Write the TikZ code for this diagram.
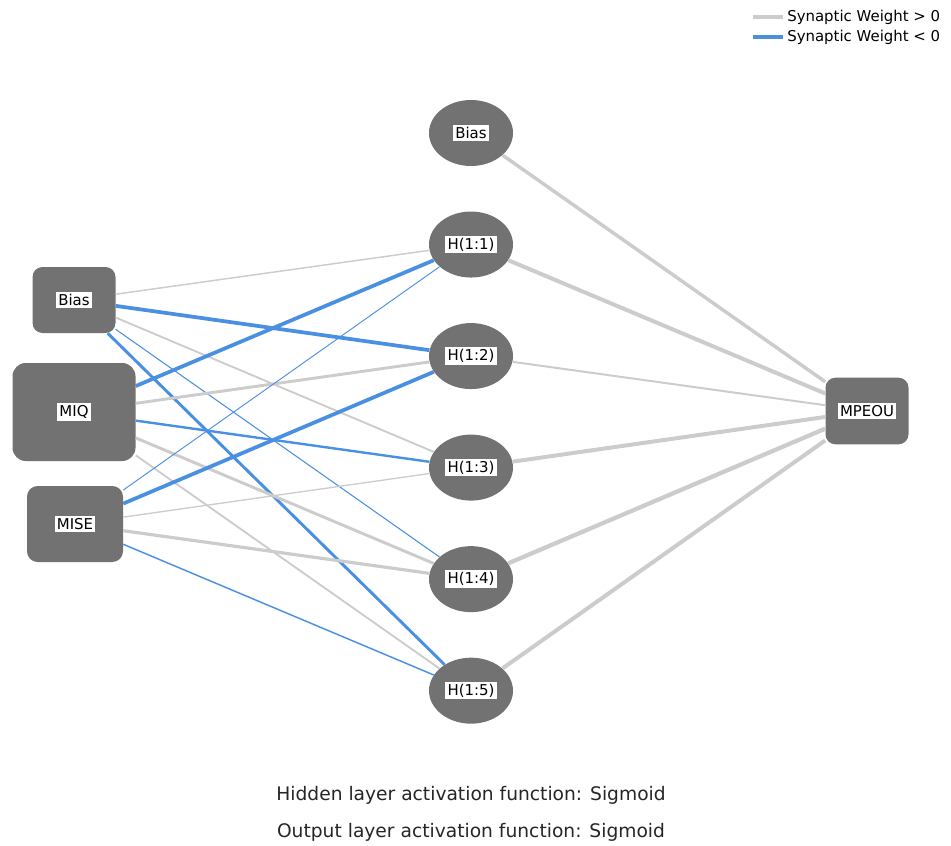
\documentclass[tikz,border=0pt]{standalone}
\usepackage{fontspec}
\setmainfont{DejaVu Sans}
\usepackage{tikz}
\usetikzlibrary{positioning,shapes.geometric}
\definecolor{nodegray}{RGB}{114,114,114}
\definecolor{wpos}{RGB}{204,204,204}
\definecolor{wneg}{RGB}{74,144,226}
\newcommand{\lbl}[1]{{\setlength{\fboxsep}{1.6pt}\colorbox{white}{#1}}}
\tikzset{%
  every node/.style = { font = \fontsize{11.2}{13.5}\selectfont, inner sep = 0pt },
  unit/.style       = { fill = nodegray, rounded corners = #1 },
  hid/.style        = { ellipse, fill = nodegray, minimum width = 63pt, minimum height = 49.5pt },
  pos/.style        = { draw = wpos, line width = #1 },
  neg/.style        = { draw = wneg, line width = #1 },
  foot/.style       = { font = \fontsize{14}{16}\selectfont, text = black!85 }
}

\begin{document}
\begin{tikzpicture}[x=0.75pt, y=-0.75pt]
  \useasboundingbox (0,0) rectangle (951,846);
  % input layer
  \node(ib)[unit=7.5pt, minimum width=62.25pt, minimum height=49.5pt] at (74,300) {\lbl{Bias}};
  \node(miq)[unit=10pt, minimum width=92.25pt, minimum height=73.5pt] at (74,412) {\lbl{MIQ}};
  \node(mise)[unit=8pt, minimum width=72pt, minimum height=57pt] at (75,524) {\lbl{MISE}};
  % hidden layer
  \node(hb)[hid] at (471,133) {\lbl{Bias}};
  \node(h1)[hid, below = 33.75pt of hb] {\lbl{H(1:1)}};
  \node(h2)[hid, below = 33.75pt of h1] {\lbl{H(1:2)}};
  \node(h3)[hid, below = 33.75pt of h2] {\lbl{H(1:3)}};
  \node(h4)[hid, below = 33.75pt of h3] {\lbl{H(1:4)}};
  \node(h5)[hid, below = 33.75pt of h4] {\lbl{H(1:5)}};
  % output layer
  \node(out)[unit=7.5pt, minimum width=62.25pt, minimum height=50pt] at (867,411) {\lbl{MPEOU}};
  % input -> hidden
  \draw[pos=1.1pt] (ib) -- (h1);
  \draw[neg=2.8pt] (ib) -- (h2);
  \draw[pos=1.4pt] (ib) -- (h3);
  \draw[neg=0.8pt] (ib) -- (h4);
  \draw[neg=2.2pt] (ib) -- (h5);
  \draw[neg=2.8pt] (miq) -- (h1);
  \draw[pos=2.2pt] (miq) -- (h2);
  \draw[neg=1.8pt] (miq) -- (h3);
  \draw[pos=2.2pt] (miq) -- (h4);
  \draw[pos=1.4pt] (miq) -- (h5);
  \draw[neg=0.7pt] (mise) -- (h1);
  \draw[neg=2.8pt] (mise) -- (h2);
  \draw[pos=1.0pt] (mise) -- (h3);
  \draw[pos=2.4pt] (mise) -- (h4);
  \draw[neg=1.1pt] (mise) -- (h5);
  % hidden -> output
  \draw[pos=2.6pt] (hb) -- (out);
  \draw[pos=3pt] (h1) -- (out);
  \draw[pos=1.5pt] (h2) -- (out);
  \draw[pos=3pt] (h3) -- (out);
  \draw[pos=3.2pt] (h4) -- (out);
  \draw[pos=3pt] (h5) -- (out);
  % legend
  \node(lpos)[anchor=west] at (787,17) {Synaptic Weight > 0};
  \node(lneg)[anchor=west] at (787,37) {Synaptic Weight < 0};
  \coordinate(lposa) at (753,17);
  \coordinate(lnega) at (753,37);
  \draw[pos=3pt] (lposa) -- ([xshift=-3pt]lpos.west);
  \draw[neg=3pt] (lnega) -- ([xshift=-3pt]lneg.west);
  % activation functions
  \node(hact)[foot] at (471,795) {Hidden layer activation function: Sigmoid};
  \node(oact)[foot] at (471,832) {Output layer activation function: Sigmoid};
\end{tikzpicture}
\end{document}
